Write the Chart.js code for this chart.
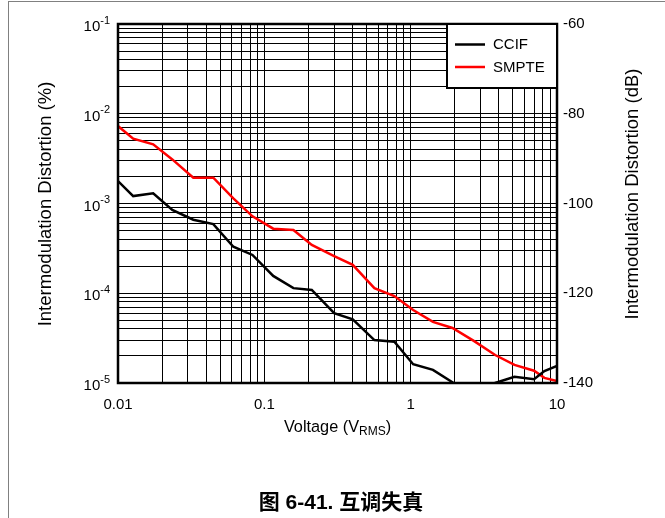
<!DOCTYPE html>
<html>
<head>
<meta charset="utf-8">
<script src="https://cdn.jsdelivr.net/npm/chart.js@4"></script>
<style>
  body { margin: 0; background: #fff; }
  #wrap { position: relative; width: 665px; height: 518px; overflow: hidden; }
  #frame { position: absolute; left: 8px; top: 1px; width: 700px; height: 600px;
           border-left: 1px solid #808080; border-top: 1px solid #808080; }
  #chart { position: absolute; left: 0; top: 0; }
</style>
</head>
<body>
<div id="wrap">
  <div id="frame"></div>
  <canvas id="chart" width="665" height="518"></canvas>
</div>
<script>
// voltage points (V RMS) shared by both curves
var volts = [0.01, 0.0127, 0.0174, 0.0235, 0.0327, 0.0448, 0.0614, 0.083, 0.115, 0.158,
             0.211, 0.300, 0.402, 0.565, 0.774, 1.04, 1.42, 1.93, 2.7, 3.78, 5.12, 6.97, 8.2, 10];
// IMD in %
var ccif  = [1.78e-3, 1.21e-3, 1.30e-3, 8.5e-4, 6.6e-4, 5.9e-4, 3.3e-4, 2.67e-4, 1.56e-4, 1.14e-4,
             1.09e-4, 6.0e-5, 5.13e-5, 3.01e-5, 2.89e-5, 1.62e-5, 1.40e-5, 1.02e-5, 7.5e-6, 1.0e-5,
             1.17e-5, 1.10e-5, 1.36e-5, 1.55e-5];
var smpte = [7.3e-3, 5.27e-3, 4.56e-3, 3.1e-3, 1.94e-3, 1.94e-3, 1.14e-3, 7.2e-4, 5.24e-4, 5.07e-4,
             3.45e-4, 2.6e-4, 2.07e-4, 1.14e-4, 9.3e-5, 6.5e-5, 4.8e-5, 4.1e-5, 2.95e-5, 2.05e-5,
             1.59e-5, 1.37e-5, 1.14e-5, 1.05e-5];

var seriesNames = ['CCIF', 'SMPTE'];
var seriesColors = ['#000000', '#ff0000'];

var xTickValues = [0.01, 0.1, 1, 10];
var xTickLabels = ['0.01', '0.1', '1', '10'];
var yTickValues = [1e-1, 1e-2, 1e-3, 1e-4, 1e-5];
var yTickExps = ['-1', '-2', '-3', '-4', '-5'];
var dbTicks = [-60, -80, -100, -120, -140];

var FONT = '"Liberation Sans", Arial, sans-serif';

// 1..9 x 10^n grid positions between two decades
function decadeGrid(fromExp, toExp) {
  var out = [];
  for (var e = fromExp; e < toExp; e++) {
    for (var m = 1; m <= 9; m++) out.push(parseFloat((m * Math.pow(10, e)).toPrecision(3)));
  }
  out.push(Math.pow(10, toExp));
  return out;
}

function pts(xs, ys) {
  return xs.map(function (x, i) { return { x: x, y: ys[i] }; });
}

var decor = {
  id: 'decor',
  afterDatasetsDraw: function (chart) {
    var ctx = chart.ctx, a = chart.chartArea;
    ctx.save();
    ctx.strokeStyle = '#000';
    ctx.lineWidth = 2.5;
    ctx.strokeRect(a.left, a.top, a.right - a.left, a.bottom - a.top);

    // legend box
    var bx = 447, by = a.top, bw = a.right - 447, bh = 64;
    ctx.fillStyle = '#fff';
    ctx.fillRect(bx, by, bw, bh);
    ctx.lineWidth = 2;
    ctx.strokeRect(bx, by, bw, bh);
    ctx.font = '15px ' + FONT;
    ctx.textBaseline = 'middle';
    ctx.textAlign = 'left';
    for (var i = 0; i < seriesNames.length; i++) {
      var ly = by + 20.5 + i * 22.5;
      ctx.strokeStyle = seriesColors[i];
      ctx.lineWidth = 2.5;
      ctx.beginPath();
      ctx.moveTo(455, ly);
      ctx.lineTo(485, ly);
      ctx.stroke();
      ctx.fillStyle = '#000';
      ctx.fillText(seriesNames[i], 493, ly + 0.5);
    }
    ctx.restore();
  },
  afterDraw: function (chart) {
    var ctx = chart.ctx, a = chart.chartArea;
    var ys = chart.scales.y;
    ctx.save();
    ctx.fillStyle = '#000';

    // left tick labels 10^n
    ctx.textBaseline = 'alphabetic';
    ctx.textAlign = 'left';
    yTickValues.forEach(function (v, i) {
      var py = ys.getPixelForValue(v);
      ctx.font = '11px ' + FONT;
      var ew = ctx.measureText(yTickExps[i]).width;
      ctx.font = '15px ' + FONT;
      var bw = ctx.measureText('10').width;
      var right = a.left - 8;
      ctx.fillText('10', right - ew - bw, py + 7);
      ctx.font = '11px ' + FONT;
      ctx.fillText(yTickExps[i], right - ew, py - 0.5);
    });

    // axis titles
    ctx.font = '18.5px ' + FONT;
    ctx.textAlign = 'center';
    ctx.textBaseline = 'middle';
    ctx.save();
    ctx.translate(46, 204);
    ctx.rotate(-Math.PI / 2);
    ctx.fillText('Intermodulation Distortion (%)', 0, 0);
    ctx.restore();
    ctx.save();
    ctx.translate(633, 194);
    ctx.rotate(-Math.PI / 2);
    ctx.fillText('Intermodulation Distortion (dB)', 0, 0);
    ctx.restore();

    // x title with subscript
    ctx.textAlign = 'left';
    ctx.textBaseline = 'alphabetic';
    var parts = [['Voltage (V', 16.3, 0], ['RMS', 12, 3], [')', 16.3, 0]];
    var total = 0;
    parts.forEach(function (p) { ctx.font = p[1] + 'px ' + FONT; total += ctx.measureText(p[0]).width; });
    var tx = (a.left + a.right) / 2 - total / 2;
    parts.forEach(function (p) {
      ctx.font = p[1] + 'px ' + FONT;
      ctx.fillText(p[0], tx, 432 + p[2]);
      tx += ctx.measureText(p[0]).width;
    });

    // caption
    ctx.textAlign = 'center';
    ctx.font = 'bold 21px ' + FONT + ', "Noto Sans CJK SC"';
    ctx.fillText('图 6-41. 互调失真', 341, 509);
    ctx.restore();
  }
};

var ctx = document.getElementById('chart');
var chart = new Chart(ctx, {
  type: 'line',
  data: {
    datasets: [{
      label: seriesNames[0],
      data: pts(volts, ccif),
      borderColor: seriesColors[0],
      borderWidth: 2.5,
      pointRadius: 0,
      tension: 0,
      clip: 0,
      yAxisID: 'y'
    }, {
      label: seriesNames[1],
      data: pts(volts, smpte),
      borderColor: seriesColors[1],
      borderWidth: 2.5,
      pointRadius: 0,
      tension: 0,
      clip: 0,
      yAxisID: 'y'
    }]
  },
  options: {
    responsive: false,
    animation: false,
    layout: { padding: { top: 24, left: 0, right: 0, bottom: 0 } },
    plugins: { legend: { display: false }, tooltip: { enabled: false } },
    scales: {
      x: {
        type: 'logarithmic',
        min: 0.01,
        max: 10,
        afterBuildTicks: function (s) { s.ticks = decadeGrid(-2, 1).map(function (v) { return { value: v }; }); },
        afterFit: function (s) { s.height = 135; },
        grid: { color: '#000', lineWidth: 1, drawTicks: false },
        border: { display: false },
        ticks: {
          autoSkip: false,
          maxRotation: 0,
          padding: 13,
          color: '#000',
          font: { family: FONT, size: 15 },
          callback: function (v) {
            for (var i = 0; i < xTickValues.length; i++) {
              if (Math.abs(v / xTickValues[i] - 1) < 1e-6) return xTickLabels[i];
            }
            return '';
          }
        }
      },
      y: {
        type: 'logarithmic',
        position: 'left',
        min: 1e-5,
        max: 1e-1,
        afterBuildTicks: function (s) { s.ticks = decadeGrid(-5, -1).map(function (v) { return { value: v }; }); },
        afterFit: function (s) { s.width = 118; },
        grid: { color: '#000', lineWidth: 1, drawTicks: false },
        border: { display: false },
        ticks: { display: false, autoSkip: false }
      },
      y2: {
        type: 'linear',
        position: 'right',
        min: -140,
        max: -60,
        afterBuildTicks: function (s) { s.ticks = dbTicks.map(function (v) { return { value: v }; }); },
        afterFit: function (s) { s.width = 108; },
        grid: { display: false, drawTicks: false },
        border: { display: false },
        ticks: {
          padding: 6,
          color: '#000',
          font: { family: FONT, size: 15 }
        }
      }
    }
  },
  plugins: [decor]
});
</script>
</body>
</html>
